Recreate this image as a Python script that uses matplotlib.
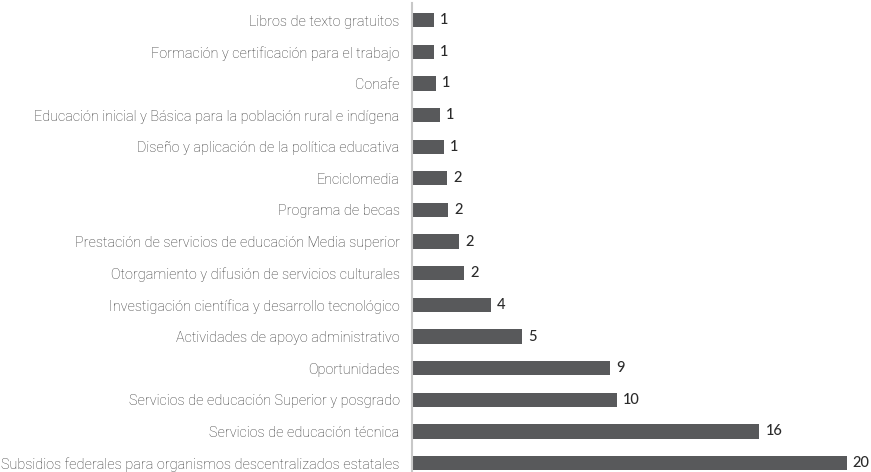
import matplotlib
matplotlib.use('Agg')
import matplotlib.pyplot as plt
from matplotlib import font_manager

# Datos (de abajo hacia arriba)
programas = [
    'Subsidios federales para organismos descentralizados estatales',
    'Servicios de educación técnica',
    'Servicios de educación Superior y posgrado',
    'Oportunidades',
    'Actividades de apoyo administrativo',
    'Investigación científica y desarrollo tecnológico',
    'Otorgamiento y difusión de servicios culturales',
    'Prestación de servicios de educación Media superior',
    'Programa de becas',
    'Enciclomedia',
    'Diseño y aplicación de la política educativa',
    'Educación inicial y Básica para la población rural e indígena',
    'Conafe',
    'Formación y certificación para el trabajo',
    'Libros de texto gratuitos',
]
valores = [20.4, 16.3, 9.62, 9.3, 5.16, 3.7, 2.45, 2.2, 1.69, 1.64, 1.48, 1.31, 1.13, 1.03, 1.03]
etiquetas = ['20', '16', '10', '9', '5', '4', '2', '2', '2', '2', '1', '1', '1', '1', '1']

nombres = set(f.name for f in font_manager.fontManager.ttflist)
fuente = 'Roboto' if 'Roboto' in nombres else 'DejaVu Sans'
fuente2 = 'Lato' if 'Lato' in nombres else 'DejaVu Sans'

fig = plt.figure(figsize=(8.71, 4.72), dpi=100)
ax = fig.add_axes([412 / 871, 0, 458 / 871, 469 / 472])

pos = list(range(len(programas)))
barras = ax.barh(pos, valores, height=0.45, color='#58595b')

ax.set_xlim(0, 21.5)
ax.set_ylim(-0.28, 14.54)
ax.set_yticks(pos)
ax.set_yticklabels(programas, fontsize=10.6, family=fuente, fontweight='light', color='#333333')
ax.tick_params(axis='y', length=0, pad=9)
ax.set_xticks([])

# ajustar el tamaño para que la etiqueta más larga mida ~390 px
fig.canvas.draw()
r = fig.canvas.get_renderer()
ancho = max(t.get_window_extent(r).width for t in ax.get_yticklabels())
for t in ax.get_yticklabels():
    t.set_fontsize(10.6 * 400 / ancho)

for lado in ['top', 'right', 'bottom']:
    ax.spines[lado].set_visible(False)
ax.spines['left'].set_color('#c8c8c8')
ax.spines['left'].set_linewidth(1.5)

for b, txt in zip(barras, etiquetas):
    ax.annotate(txt, (b.get_width(), b.get_y() + b.get_height() / 2),
                xytext=(4.5, 0), textcoords='offset points', va='center', ha='left',
                fontsize=10.5, family=fuente2, fontweight='medium', color='#2b2b2b')

fig.savefig('out.png', dpi=100)
